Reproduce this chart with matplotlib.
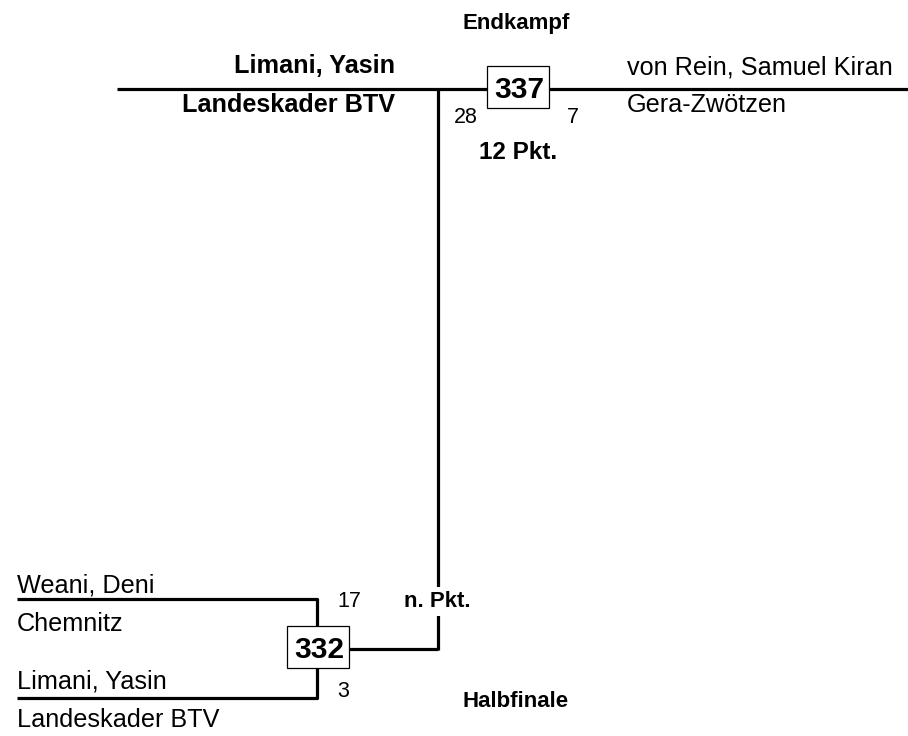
import matplotlib.pyplot as plt
from matplotlib.patches import Rectangle

# bracket data
rounds = ['Endkampf', 'Halbfinale']
final_match = '337'
final_players = ['Limani, Yasin', 'von Rein, Samuel Kiran']
final_clubs = ['Landeskader BTV', 'Gera-Zwötzen']
final_scores = [28, 7]
final_result = '12 Pkt.'
semi_match = '332'
semi_players = ['Weani, Deni', 'Limani, Yasin']
semi_clubs = ['Chemnitz', 'Landeskader BTV']
semi_scores = [17, 3]
semi_result = 'n. Pkt.'

plt.rcParams['font.family'] = ['Liberation Sans', 'DejaVu Sans']

W, H = 908, 736
fig = plt.figure(figsize=(W / 100, H / 100), dpi=100)
ax = fig.add_axes([0, 0, 1, 1])
ax.set_xlim(0, W)
ax.set_ylim(H, 0)
ax.axis('off')

lw = 2.3
name_fs = 18.2
num_fs = 15.5
box_fs = 21.5
head_fs = 16
line_kw = dict(color='black', lw=lw, solid_capstyle='butt')


def match_box(x, y, label):
    ax.add_patch(Rectangle((x, y), 62, 42, facecolor='white', edgecolor='black', lw=0.9, zorder=3))
    ax.text(x + 32, y + 32, label, fontsize=box_fs, fontweight='bold',
            ha='center', va='baseline', zorder=4)


# final
ax.text(516, 29, rounds[0], fontsize=head_fs, fontweight='bold', ha='center', va='baseline')
ax.plot([117, W], [89, 89], **line_kw)
ax.plot([438, 438], [89, 650], **line_kw)
match_box(487, 66, final_match)
ax.text(395, 73, final_players[0], fontsize=name_fs, fontweight='bold', ha='right', va='baseline')
ax.text(395, 112, final_clubs[0], fontsize=name_fs, fontweight='bold', ha='right', va='baseline')
ax.text(627, 74, final_players[1], fontsize=name_fs, ha='left', va='baseline')
ax.text(627, 112, final_clubs[1], fontsize=name_fs, ha='left', va='baseline')
ax.text(466, 123, str(final_scores[0]), fontsize=num_fs, ha='center', va='baseline')
ax.text(573, 123, str(final_scores[1]), fontsize=num_fs, ha='center', va='baseline')
ax.text(518, 159, final_result, fontsize=17.5, fontweight='bold', ha='center', va='baseline')

# semifinal
ax.plot([17, 317, 317], [599, 599, 626], **line_kw)
ax.plot([17, 317, 317], [698, 698, 668], **line_kw)
ax.plot([349, 438], [649, 649], **line_kw)
match_box(287, 626, semi_match)
ax.text(17, 592, semi_players[0], fontsize=name_fs, ha='left', va='baseline')
ax.text(17, 631, semi_clubs[0], fontsize=name_fs, ha='left', va='baseline')
ax.text(17, 689, semi_players[1], fontsize=name_fs, ha='left', va='baseline')
ax.text(17, 727, semi_clubs[1], fontsize=name_fs, ha='left', va='baseline')
ax.text(349, 607, str(semi_scores[0]), fontsize=num_fs, ha='center', va='baseline')
ax.text(343, 697, str(semi_scores[1]), fontsize=num_fs, ha='center', va='baseline')
ax.text(437, 607, semi_result, fontsize=16, fontweight='bold', ha='center', va='baseline',
        bbox=dict(facecolor='white', edgecolor='none', pad=3), zorder=3)
ax.text(516, 707, rounds[1], fontsize=head_fs, fontweight='bold', ha='center', va='baseline')

fig.savefig('out.png', dpi=100)
